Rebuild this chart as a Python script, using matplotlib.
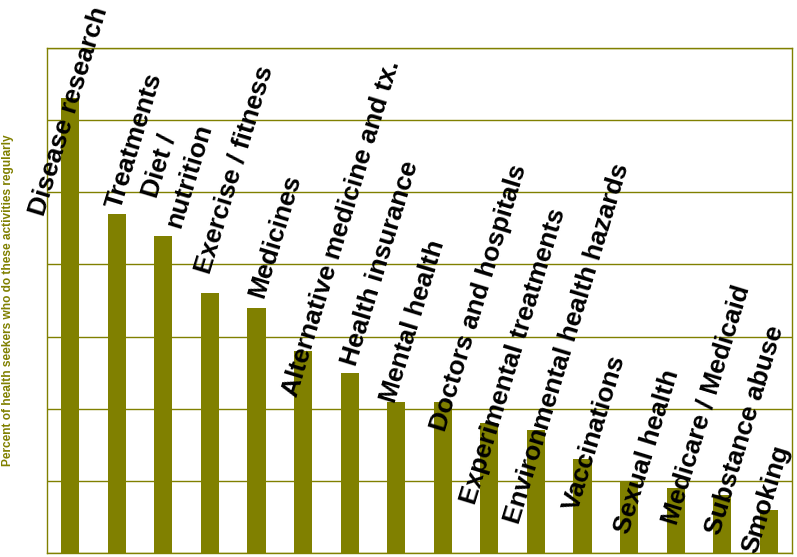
import matplotlib
matplotlib.use("Agg")
import matplotlib.pyplot as plt

# categories and values (percent of health seekers)
categories = ["Disease research", "Treatments", "Diet /\nnutrition", "Exercise / fitness",
              "Medicines", "Alternative medicine and tx.", "Health insurance", "Mental health",
              "Doctors and hospitals", "Experimental treatments", "Environmental health hazards",
              "Vaccinations", "Sexual health", "Medicare / Medicaid", "Substance abuse", "Smoking"]
values = [63, 47, 44, 36, 34, 28, 25, 21, 21, 18, 17, 13, 10, 9, 8, 6]
y_ticks = [0, 10, 20, 30, 40, 50, 60, 70]

# label placement, offsets from each bar top (category units, percent units)
label_dx = [-0.03, 0.38, 0.24, 0.52, 0.40, 0.82, 0.65, 0.36, 0.79, 0.52, 0.67, 0.26, 0.39, 0.66, 0.50, -0.05]
label_dy = [-1.75, 10.1, 9.0, 17.2, 10.0, 17.0, 15.1, 11.1, 14.4, 9.3, 12.1, 3.7, 4.0, 11.6, 9.1, 1.4]

olive = "#808000"
plt.rcParams['font.family'] = ['Liberation Sans', 'DejaVu Sans']

fig = plt.figure(figsize=(7.97, 5.57), dpi=100)
ax = fig.add_axes([47/797, 4/557, 745/797, 505/557])

x = list(range(len(values)))
ax.bar(x, values, width=0.39, color=olive, zorder=2)

ax.set_xlim(-0.5, len(values) - 0.5)
ax.set_ylim(0, 70)
ax.set_yticks(y_ticks)
ax.set_yticklabels([])
ax.set_xticks([])
ax.tick_params(length=0)
ax.grid(axis='y', color=olive, linewidth=1, zorder=0)
for s in ax.spines.values():
    s.set_color(olive)
    s.set_linewidth(1)

for i in x:
    ax.text(i + label_dx[i], values[i] + label_dy[i], categories[i],
            rotation=73, rotation_mode='anchor', ha='center', va='center',
            multialignment='center', linespacing=1.4,
            fontsize=19, fontweight='bold', color='black', zorder=3)

fig.text(8.5/797, 1 - 300/557, "Percent of health seekers who do these activities regularly",
         rotation=90, ha='center', va='center', fontsize=8.6, fontweight='bold', color=olive)

fig.savefig("out.png", dpi=100)
